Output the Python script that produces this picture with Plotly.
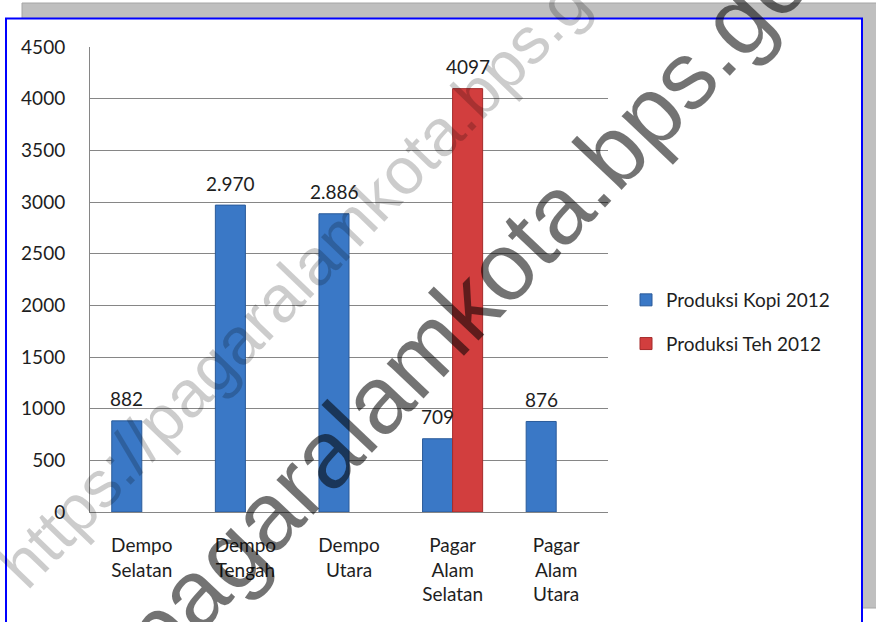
import plotly.graph_objects as go

categories = ["Dempo<br>Selatan", "Dempo<br>Tengah", "Dempo<br>Utara",
              "Pagar<br>Alam<br>Selatan", "Pagar<br>Alam<br>Utara"]
kopi_2012 = [882, 2970, 2886, 709, 876]
teh_2012 = [None, None, None, 4097, None]
kopi_labels = ["882", "2.970", "2.886", "709", "876"]
teh_labels = [None, None, None, "4097", None]
series_names = ["Produksi Kopi 2012", "Produksi Teh 2012"]
y_ticks = [0, 500, 1000, 1500, 2000, 2500, 3000, 3500, 4000, 4500]
watermark = "https://pagaralamkota.bps.go.id"

W, H = 876, 622
L, R, T, B = 90, 608, 47, 512
FONT = "Lato"
TXT = "#1e1e1e"


def px(x):
    return (x - L) / (R - L)


def py(y):
    return (B - y) / (B - T)


fig = go.Figure()
fig.add_trace(go.Bar(
    x=categories, y=kopi_2012, name=series_names[0],
    marker=dict(color="#3a78c6", line=dict(color="#2a5b9a", width=1)),
    legendgroup="a", hoverinfo="skip",
))
fig.add_trace(go.Bar(
    x=categories, y=teh_2012, name=series_names[1],
    marker=dict(color="#d23e3e", line=dict(color="#a52a2a", width=1)),
    legendgroup="b", hoverinfo="skip",
))

annotations = []
for c, v, t in zip(categories, kopi_2012, kopi_labels):
    annotations.append(dict(x=c, y=v, text=t, xref="x", yref="y", showarrow=False,
                            xshift=-15, yshift=22, yanchor="middle",
                            font=dict(family=FONT, size=19, color=TXT)))
for c, v, t in zip(categories, teh_2012, teh_labels):
    if v is not None:
        annotations.append(dict(x=c, y=v, text=t, xref="x", yref="y", showarrow=False,
                                xshift=15, yshift=22, yanchor="middle",
                                font=dict(family=FONT, size=19, color=TXT)))

# watermarks
annotations.append(dict(x=px(330), y=py(245), xref="paper", yref="paper", text=watermark,
                        showarrow=False, textangle=-46, xanchor="center", yanchor="middle",
                        font=dict(family="Liberation Sans", size=66, color="rgba(0,0,0,0.2)")))
annotations.append(dict(x=px(400), y=py(374), xref="paper", yref="paper", text=watermark,
                        showarrow=False, textangle=-46.5, xanchor="center", yanchor="middle",
                        font=dict(family="Liberation Sans", size=96, color="rgba(0,0,0,0.55)")))

shapes = [
    dict(type="rect", xref="paper", yref="paper", x0=px(22), x1=px(880), y0=py(3), y1=py(608),
         fillcolor="#bfbfbf", line=dict(color="#a6a6a6", width=1), layer="below"),
    dict(type="rect", xref="paper", yref="paper", x0=px(6), x1=px(862), y0=py(18.5), y1=py(650),
         fillcolor="white", line=dict(color="#0000ff", width=2), layer="below"),
]

fig.update_layout(
    width=W, height=H,
    margin=dict(l=L, r=W - R, t=T, b=H - B, pad=0),
    paper_bgcolor="white", plot_bgcolor="white",
    barmode="group", bargap=0.42, bargroupgap=0,
    font=dict(family=FONT, size=19, color=TXT),
    showlegend=True, hovermode=False,
    legend=dict(x=px(626), y=py(322), xanchor="left", yanchor="middle",
                font=dict(family=FONT, size=19, color=TXT),
                tracegroupgap=16, bgcolor="rgba(0,0,0,0)", itemwidth=30),
    annotations=annotations,
    shapes=shapes,
)
fig.update_xaxes(showline=True, linecolor="#868686", linewidth=1, showgrid=False,
                 ticks="", tickfont=dict(family=FONT, size=19, color=TXT),
                 ticklabelstandoff=16, tickangle=0)
fig.update_yaxes(range=[0, 4500], tickvals=y_ticks, showline=True, linecolor="#868686",
                 linewidth=1, showgrid=True, gridcolor="#868686", gridwidth=1,
                 zeroline=False, ticks="", tickfont=dict(family=FONT, size=19, color=TXT),
                 ticklabelstandoff=20)

fig.write_html("out.html", config={"displayModeBar": False},
               post_script="document.body.style.margin='0';document.body.style.overflow='hidden';")
